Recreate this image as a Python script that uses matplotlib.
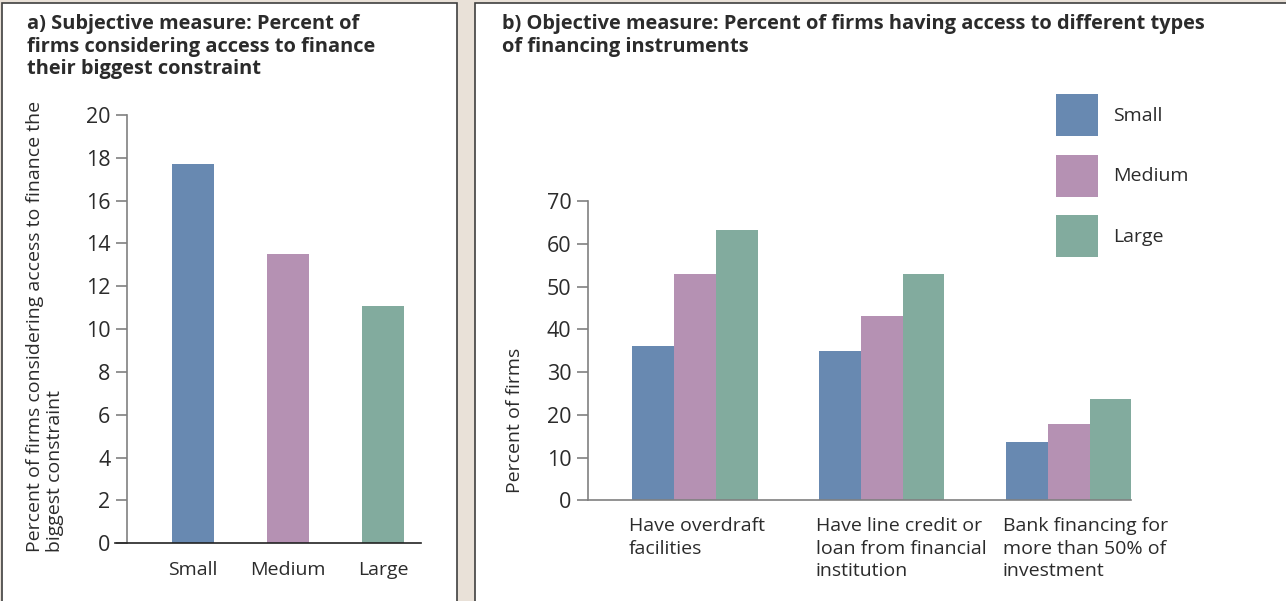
import matplotlib
matplotlib.use("Agg")
import matplotlib.pyplot as plt
from matplotlib.patches import Rectangle
from matplotlib.transforms import ScaledTranslation
import numpy as np

plt.rcParams["font.family"] = ["Open Sans", "DejaVu Sans"]

# Panel a: subjective measure
sizes = ["Small", "Medium", "Large"]
constraint_pct = [17.7, 13.5, 11.1]

# Panel b: objective measure
instruments = [
    "Have overdraft\nfacilities",
    "Have line credit or\nloan from financial\ninstitution",
    "Bank financing for\nmore than 50% of\ninvestment",
]
small_pct = [36.1, 35.0, 13.7]
medium_pct = [53.0, 43.2, 17.9]
large_pct = [63.3, 53.0, 23.8]

COLORS = ["#6889b1", "#b591b3", "#82ab9e"]
BG = "#e9e1d8"
FRAME = "#3f3f3f"
TEXT = "#2b2b2b"
AXIS = "#808080"

W, H = 1286, 601
fig = plt.figure(figsize=(W / 100, H / 100), dpi=100, facecolor=BG)


def fx(px):
    return px / W


def fy(py):
    return 1 - py / H


# white panel boxes
for x0, x1 in [(2, 457), (475, 1295)]:
    fig.patches.append(
        Rectangle((fx(x0), fy(620)), fx(x1 - x0), (620 - 3) / H,
                  transform=fig.transFigure, facecolor="white",
                  edgecolor=FRAME, linewidth=1.2, zorder=-5)
    )


def style_axis(ax, bottom_color):
    for s in ["top", "right"]:
        ax.spines[s].set_visible(False)
    ax.spines["left"].set_color(AXIS)
    ax.spines["left"].set_linewidth(1.2)
    ax.spines["bottom"].set_color(bottom_color)
    ax.spines["bottom"].set_linewidth(1.2)
    ax.tick_params(axis="y", length=8, width=1.2, color=AXIS, pad=4,
                   labelsize=15.5, labelcolor=TEXT)
    ax.tick_params(axis="x", length=0, labelcolor=TEXT)
    ax.set_facecolor("none")


# Left: subjective measure ################################################
ax1 = fig.add_axes([fx(127), fy(543.3), fx(294), 428.3 / H])
x1 = np.arange(len(sizes))
ax1.bar(x1, constraint_pct, width=0.44, color=COLORS, zorder=2)
ax1.set_xlim(-0.695, 2.4)
ax1.set_ylim(0, 20)
ax1.set_yticks(range(0, 21, 2))
ax1.set_xticks(x1)
ax1.set_xticklabels(sizes, fontsize=14)
style_axis(ax1, "#222222")
ax1.tick_params(axis="x", pad=13)
ax1.spines["bottom"].set_bounds(-0.82, 2.4)
ax1.set_ylabel("Percent of firms considering access to finance the\nbiggest constraint",
               fontsize=14, color=TEXT, ma="left", linespacing=1.1)
ax1.yaxis.set_label_coords(-0.215, 0.507)

fig.text(fx(27), fy(14), "a) Subjective measure: Percent of\nfirms considering access to finance\ntheir biggest constraint",
         fontsize=14.4, fontweight="bold", color=TEXT, va="top", ha="left",
         linespacing=1.17)

# Right: objective measure ################################################
ax2 = fig.add_axes([fx(588), fy(500.3), fx(543), 299 / H])
x2 = np.arange(len(instruments))
bw = 0.223
for i, (vals, lab) in enumerate(zip([small_pct, medium_pct, large_pct], sizes)):
    ax2.bar(x2 + (i - 1) * bw, vals, width=bw, color=COLORS[i], label=lab, zorder=1)
ax2.set_xlim(-0.572, 2.332)
ax2.set_ylim(0, 70)
ax2.set_yticks(range(0, 71, 10))
ax2.set_xticks(x2)
ax2.set_xticklabels(instruments, fontsize=14, ha="left", linespacing=1.33)
style_axis(ax2, AXIS)
ax2.tick_params(axis="x", pad=12)
# labels start near the left edge of each group
shift = ScaledTranslation(-0.66, 0, fig.dpi_scale_trans)
for lab in ax2.get_xticklabels():
    lab.set_transform(lab.get_transform() + shift)
ax2.spines["bottom"].set_zorder(3)
ax2.set_ylabel("Percent of firms", fontsize=14, color=TEXT)
ax2.yaxis.set_label_coords(-0.118, 0.268)

ax2.legend(loc="upper left", bbox_to_anchor=(fx(1056), fy(94)),
           bbox_transform=fig.transFigure, frameon=False, fontsize=14,
           handlelength=2.16, handleheight=2.96, labelspacing=0.95,
           handletextpad=0.8, borderpad=0, borderaxespad=0, labelcolor=TEXT)

fig.text(fx(502), fy(14), "b) Objective measure: Percent of firms having access to different types\nof financing instruments",
         fontsize=14.4, fontweight="bold", color=TEXT, va="top", ha="left",
         linespacing=1.17)

fig.savefig("out.png", dpi=100, facecolor=BG)
